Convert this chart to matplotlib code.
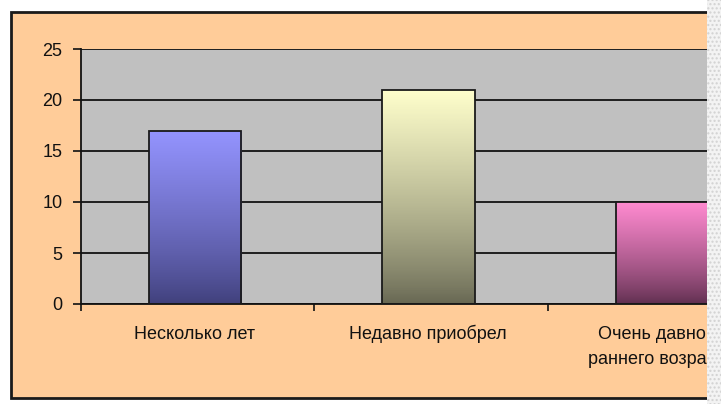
import matplotlib
matplotlib.use("Agg")
import matplotlib.pyplot as plt
import matplotlib.transforms as mtransforms
import numpy as np
from matplotlib.patches import Rectangle
from matplotlib.colors import LinearSegmentedColormap

categories = ["Несколько лет", "Недавно приобрел", "Очень давно, с\nраннего возраста"]
values = [17, 21, 10]
top_colors = ["#9494FF", "#FFFFCC", "#FF8AD0"]
bottom_colors = ["#3F3F7A", "#666652", "#5E2E4E"]
yticks = [0, 5, 10, 15, 20, 25]

plt.rcParams['font.family'] = ['Liberation Sans', 'DejaVu Sans']

W, H = 721, 404
fig = plt.figure(figsize=(W / 100, H / 100), dpi=100)
fig.patch.set_facecolor("white")

# chart area background with border
chart_bg = Rectangle((11 / W, (H - 398) / H), (730 - 11) / W, (398 - 12) / H,
                     transform=fig.transFigure, facecolor="#FFCC99",
                     edgecolor="#1a1a1a", linewidth=2, zorder=0)
fig.add_artist(chart_bg)

left = 80.5 / W
bottom = (H - 304) / H
width = 3 * 233.5 / W
height = 255 / H
ax = fig.add_axes([left, bottom, width, height])
ax.set_facecolor("#C0C0C0")
ax.set_zorder(1)

x = np.arange(len(categories))
bars = ax.bar(x - 0.01, values, width=0.395, facecolor="none", edgecolor="#1a1a1a",
              linewidth=1.3, zorder=3)

for bar, tc, bc in zip(bars, top_colors, bottom_colors):
    cmap = LinearSegmentedColormap.from_list("g", [bc, tc])
    x0, y0 = bar.get_x(), bar.get_y()
    w, h = bar.get_width(), bar.get_height()
    grad = np.linspace(0, 1, 256).reshape(-1, 1) ** 0.8
    im = ax.imshow(grad, extent=[x0, x0 + w, y0, y0 + h], origin="lower",
                   cmap=cmap, aspect="auto", zorder=2)
    im.set_clip_path(bar)

ax.set_xlim(-0.5, len(categories) - 0.5)
ax.set_ylim(0, 25)
ax.set_yticks(yticks)
ax.set_yticklabels([str(v) for v in yticks], fontsize=13, color="#111111")
ax.yaxis.grid(True, color="#111111", linewidth=1.3)
ax.set_axisbelow(True)

ax.set_xticks(x)
ax.set_xticklabels([])
ax.set_xticks(np.arange(len(categories) + 1) - 0.5, minor=True)
ax.tick_params(axis="x", which="major", length=0)
ax.tick_params(axis="x", which="minor", length=5, width=1.2, color="#111111", direction="out")
ax.tick_params(axis="y", length=6, width=1.2, color="#111111", direction="out", pad=7)

# category labels (baseline aligned, each line drawn separately)
base = mtransforms.blended_transform_factory(ax.transData, ax.transAxes)
for xi, cat in zip(x, categories):
    for i, line in enumerate(cat.split("\n")):
        tr = mtransforms.offset_copy(base, fig=fig, x=-3, y=-(35 + 25 * i), units="dots")
        ax.text(xi, 0, line, transform=tr, ha="center", va="baseline",
                fontsize=13, color="#111111", clip_on=False)

for side in ["top", "right"]:
    ax.spines[side].set_visible(False)
ax.spines["left"].set_linewidth(1.3)
ax.spines["bottom"].set_linewidth(1.3)
ax.spines["left"].set_color("#111111")
ax.spines["bottom"].set_color("#111111")

# right side strip covering clipped part
strip = Rectangle((707 / W, 0), (W - 707) / W, 1, transform=fig.transFigure,
                  facecolor="#F3F3F3", edgecolor="#D2D2D2", hatch="....",
                  linewidth=0, zorder=10)
fig.add_artist(strip)

fig.savefig("out.png", dpi=100)
